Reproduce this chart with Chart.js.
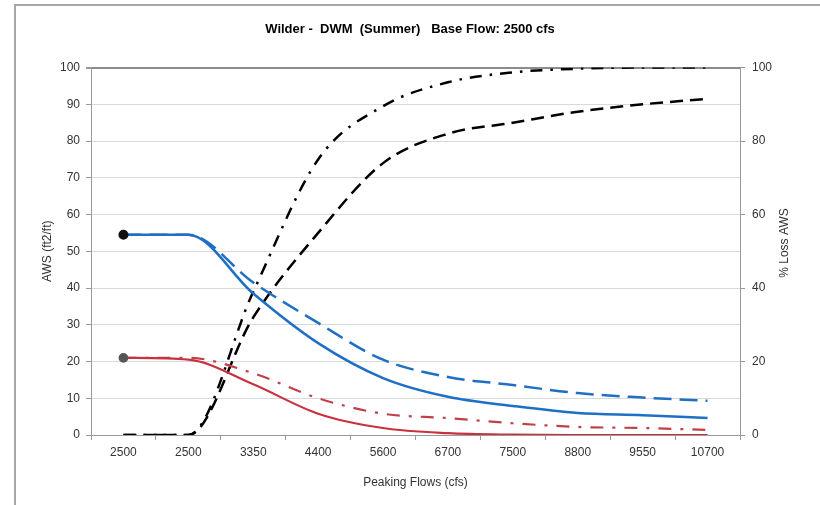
<!DOCTYPE html>
<html>
<head>
<meta charset="utf-8">
<script src="https://cdn.jsdelivr.net/npm/chart.js@4.4.1/dist/chart.umd.min.js"></script>
<style>
    body { margin: 0; background: #fff; }
    #wrap { position: relative; width: 820px; height: 505px; }
</style>
</head>
<body>
<div id="wrap"><canvas id="myChart" width="820" height="505"></canvas></div>
<script>
// categorias do eixo x (vazoes de pico)
const categories = ['2500', '2500', '3350', '4400', '5600', '6700', '7500', '8800', '9550', '10700'];

// AWS (ft2/ft) - eixo esquerdo
const awsBlue = [54.5, 54.5, 38.5, 25.0, 15.5, 10.4, 7.9, 6.0, 5.4, 4.6];
const awsBlueDash = [54.5, 54.5, 41.5, 30.5, 20.5, 15.8, 13.6, 11.4, 10.2, 9.3];
const awsRed = [21.0, 20.5, 13.8, 5.8, 1.9, 0.5, 0.1, 0, 0, 0];
const awsRedDashDot = [21.0, 21.0, 16.8, 10.0, 5.8, 4.6, 3.2, 2.2, 1.9, 1.4];

// % Loss AWS - eixo direito
const lossDashDot = [0, 0, 39, 75, 89.5, 96, 98.7, 99.7, 100, 100];
const lossDash = [0, 0, 32, 55, 74, 82, 85, 88, 90, 91.5];

// ticks dos eixos
const leftTicks = [0, 10, 20, 30, 40, 50, 60, 70, 80, 90, 100];
const rightTicks = [0, 20, 40, 60, 80, 100];

const FONT = 'Liberation Sans, Arial, sans-serif';
const TEXT = '#333';

// moldura cinza (so topo e esquerda aparecem)
const framePlugin = {
    id: 'frame',
    beforeDraw(chart){
        const c = chart.ctx;
        c.save();
        c.fillStyle = '#fff';
        c.fillRect(0, 0, chart.width, chart.height);
        c.strokeStyle = '#a6a6a6';
        c.lineWidth = 2;
        c.beginPath();
        c.moveTo(15, 505);
        c.lineTo(15, 5);
        c.lineTo(820, 5);
        c.stroke();
        c.restore();
    }
};

// titulo do eixo direito, girado como no Excel (de baixo pra cima)
const rightTitlePlugin = {
    id: 'rightTitle',
    afterDraw(chart){
        const c = chart.ctx;
        c.save();
        c.translate(785, 243);
        c.rotate(-Math.PI / 2);
        c.font = '12px ' + FONT;
        c.fillStyle = TEXT;
        c.textAlign = 'center';
        c.textBaseline = 'middle';
        c.fillText('% Loss AWS', 0, 0);
        c.restore();
    }
};

function firstPointOnly(r){
    return (ctx) => ctx.dataIndex === 0 ? r : 0;
}

function chart(){
    const ctx = document.getElementById('myChart').getContext('2d');

    const data = {
        labels: categories,
        datasets: [
            {
                data: awsBlue, yAxisID: 'y',
                borderColor: '#1f6fc5', borderWidth: 2.5,
                pointRadius: firstPointOnly(3.8), pointBackgroundColor: '#111', pointBorderColor: '#111',
            },
            {
                data: awsBlueDash, yAxisID: 'y',
                borderColor: '#1f6fc5', borderWidth: 2.5, borderDash: [18, 8],
                pointRadius: 0,
            },
            {
                data: awsRed, yAxisID: 'y',
                borderColor: '#c8323f', borderWidth: 2.2,
                pointRadius: firstPointOnly(3.8), pointBackgroundColor: '#555', pointBorderColor: '#555',
            },
            {
                data: awsRedDashDot, yAxisID: 'y',
                borderColor: '#c0404a', borderWidth: 2.2, borderDash: [13, 9, 3, 9],
                pointRadius: 0,
            },
            {
                data: lossDashDot, yAxisID: 'y1',
                borderColor: '#000', borderWidth: 2.5, borderDash: [12, 8, 2.5, 8],
                pointRadius: 0,
            },
            {
                data: lossDash, yAxisID: 'y1',
                borderColor: '#000', borderWidth: 2.5, borderDash: [13, 7],
                pointRadius: 0,
            },
        ]
    };

    const config = {
        type: 'line',
        data: data,
        options: {
            responsive: false,
            animation: false,
            events: [],
            layout: { padding: 0 },
            elements: { line: { cubicInterpolationMode: 'monotone', fill: false } },
            plugins: {
                legend: { display: false },
                tooltip: { enabled: false },
                title: {
                    display: true,
                    text: 'Wilder -  DWM  (Summer)   Base Flow: 2500 cfs',
                    color: '#000',
                    font: { family: FONT, size: 13, weight: 'bold' },
                    padding: { top: 22, bottom: 30 },
                },
            },
            scales: {
                x: {
                    offset: true,
                    grid: { offset: true, drawOnChartArea: false, tickLength: 5, tickColor: '#999' },
                    border: { color: '#999' },
                    ticks: { color: TEXT, font: { family: FONT, size: 12 }, padding: 5, maxRotation: 0, autoSkip: false },
                    title: { display: true, text: 'Peaking Flows (cfs)', color: TEXT, font: { family: FONT, size: 12 }, padding: { top: 0, bottom: 15 } },
                    afterFit(scale){ scale.height = 70; }
                },
                y: {
                    position: 'left',
                    min: 0, max: 100,
                    afterBuildTicks(scale){ scale.ticks = leftTicks.map(v => ({ value: v })); },
                    grid: {
                        color: (c) => c.tick && c.tick.value === 100 ? '#8c8c8c' : '#d9d9d9',
                        lineWidth: (c) => c.tick && c.tick.value === 100 ? 2 : 1,
                        tickLength: 5, tickColor: '#999'
                    },
                    border: { color: '#999' },
                    ticks: { color: TEXT, font: { family: FONT, size: 12 }, padding: 6 },
                    title: { display: true, text: 'AWS (ft2/ft)', color: TEXT, font: { family: FONT, size: 12 }, padding: { top: 40, bottom: 0 } },
                    afterFit(scale){ scale.width = 91; }
                },
                y1: {
                    position: 'right',
                    min: 0, max: 100,
                    afterBuildTicks(scale){ scale.ticks = rightTicks.map(v => ({ value: v })); },
                    grid: { drawOnChartArea: false, tickLength: 5, tickColor: '#999' },
                    border: { color: '#999' },
                    ticks: { color: TEXT, font: { family: FONT, size: 12 }, padding: 7 },
                    afterFit(scale){ scale.width = 80; }
                }
            }
        },
        plugins: [framePlugin, rightTitlePlugin]
    };

    return new Chart(ctx, config);
}

chart();
</script>
</body>
</html>
